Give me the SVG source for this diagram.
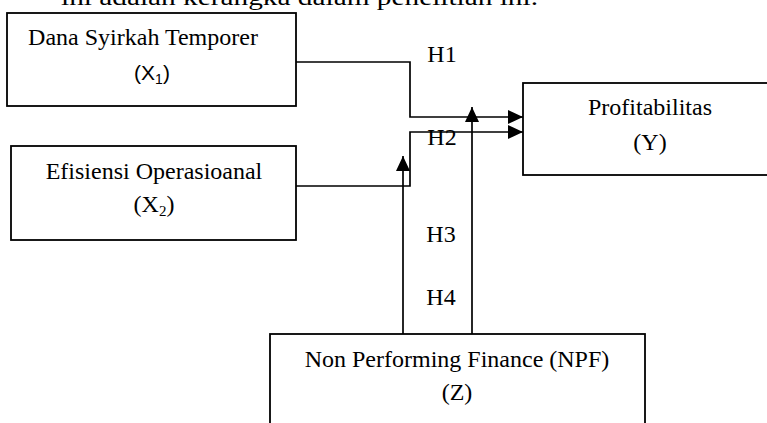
<svg xmlns="http://www.w3.org/2000/svg" width="767" height="423" viewBox="0 0 767 423">
<style>
  .box { fill: #fff; stroke: #000; stroke-width: 1.8; }
  .t { font-family: "Liberation Serif", "Times New Roman", serif; font-size: 24px; fill: #000; }
  .s { font-family: "Liberation Sans", Arial, sans-serif; font-size: 21px; fill: #000; }
  .c { fill: none; stroke: #000; stroke-width: 1.7; }
</style>
<defs>
  <marker id="ah" markerUnits="userSpaceOnUse" markerWidth="15" markerHeight="14" refX="15" refY="7" orient="auto">
    <path d="M0,0 L15,7 L0,14 Z" fill="#000"/>
  </marker>
</defs>
<rect width="767" height="423" fill="#fff"/>
<text class="t" x="61" y="5" textLength="477" lengthAdjust="spacingAndGlyphs">ini adalah kerangka dalam penelitian ini.</text>

<g id="connectors">
  <path class="c" d="M296,62 H410 V117 H523" marker-end="url(#ah)"/>
  <path class="c" d="M296,186 H410 V132 H523" marker-end="url(#ah)"/>
  <path class="c" d="M403,334 V156" marker-end="url(#ah)"/>
  <path class="c" d="M472,334 V107" marker-end="url(#ah)"/>
  <text class="t" x="442" y="62" text-anchor="middle">H1</text>
  <text class="t" x="442" y="145" text-anchor="middle">H2</text>
  <text class="t" x="441" y="242" text-anchor="middle">H3</text>
  <text class="t" x="441" y="305" text-anchor="middle">H4</text>
</g>

<g id="node-x1">
  <rect class="box" x="7" y="13" width="289" height="93"/>
  <text class="t" x="143" y="45" text-anchor="middle">Dana Syirkah Temporer</text>
  <text class="s" x="152" y="80" text-anchor="middle">(X<tspan font-size="14" dy="4">1</tspan><tspan dy="-4">)</tspan></text>
</g>

<g id="node-x2">
  <rect class="box" x="11" y="146" width="285" height="94"/>
  <text class="t" x="154" y="179" text-anchor="middle">Efisiensi Operasioanal</text>
  <text class="t" x="154" y="212" text-anchor="middle">(X<tspan font-size="15" dy="4">2</tspan><tspan dy="-4">)</tspan></text>
</g>

<g id="node-y">
  <rect class="box" x="523" y="83" width="254" height="92"/>
  <text class="t" x="650" y="115" text-anchor="middle">Profitabilitas</text>
  <text class="t" x="650" y="150" text-anchor="middle">(Y)</text>
</g>

<g id="node-z">
  <rect class="box" x="270" y="334" width="375" height="120"/>
  <text class="t" x="457" y="367" text-anchor="middle">Non Performing Finance (NPF)</text>
  <text class="t" x="457" y="400" text-anchor="middle">(Z)</text>
</g>
</svg>
